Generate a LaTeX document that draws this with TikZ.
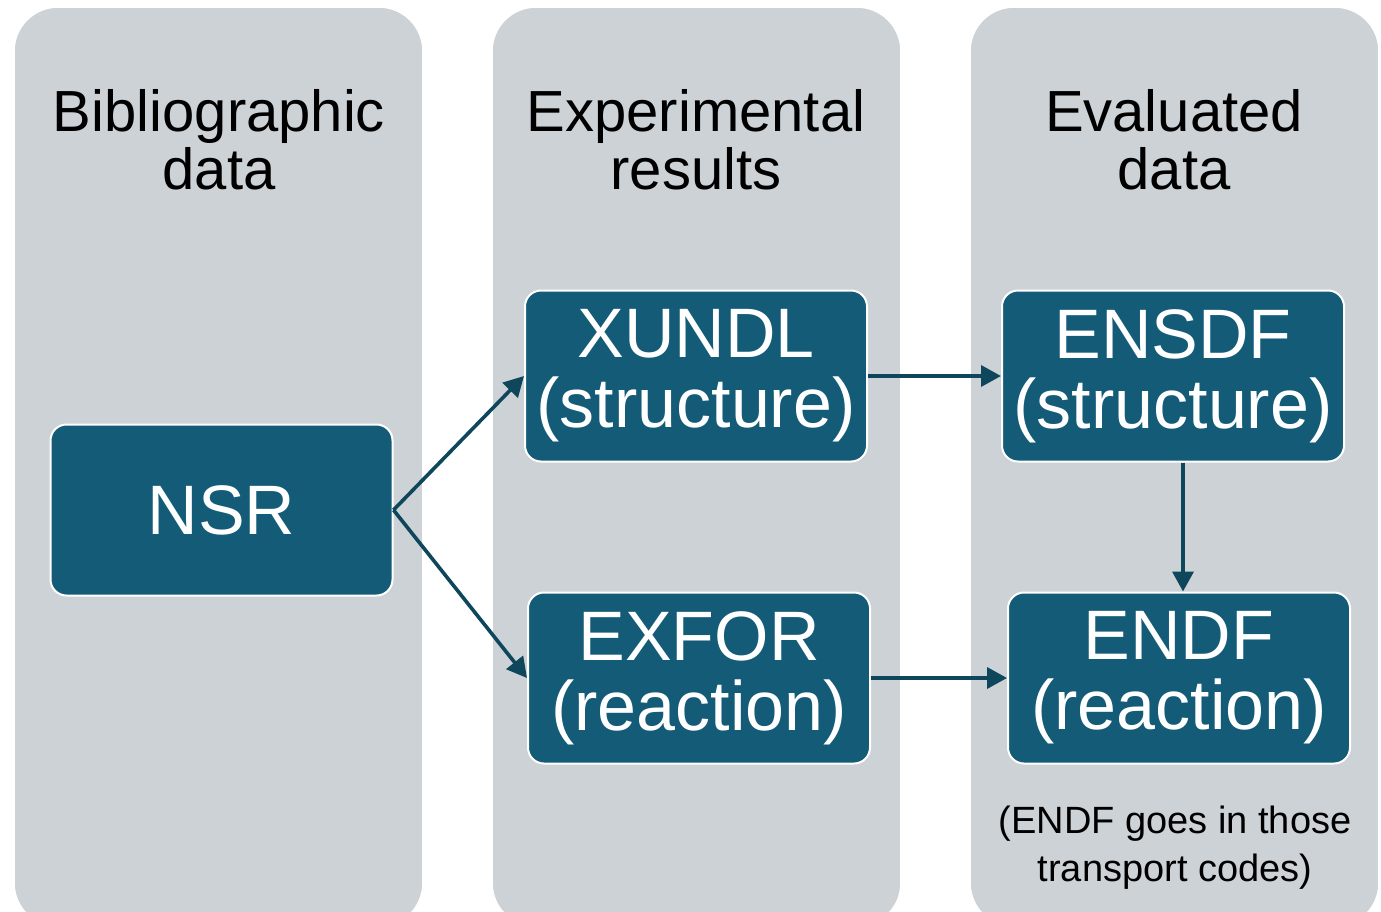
\documentclass[tikz,border=0pt]{standalone}
\usepackage{fontspec}
\setmainfont{Liberation Sans}
\usetikzlibrary{arrows.meta}
\usetikzlibrary{positioning}

\definecolor{panelgray}{HTML}{CDD2D7}
\definecolor{boxteal}{HTML}{135B77}
\definecolor{arrowteal}{HTML}{0E475B}

\begin{document}
\begin{tikzpicture}[x=0.5pt,y=-0.5pt,>={Triangle[length=10pt,width=10.5pt]},
	panel/.style={fill=panelgray,draw=white,line width=0.8pt,rounded corners=22pt},
	head/.style={align=center,font=\fontsize{29}{29}\selectfont},
	main node/.style={rectangle,rounded corners=8pt,fill=boxteal,draw=white,
		line width=1pt,text=white,align=center,inner sep=0pt,
		minimum width=171pt,minimum height=85.5pt,font=\fontsize{35}{35}\selectfont},
	link/.style={->,draw=arrowteal,line width=1.8pt}]
	
	\useasboundingbox (0,0) rectangle (1381,911);
	
	% three columns
	\foreach \x in {14,492,970}
	\draw[panel] (\x,7) rectangle ++(409,920);
	
	\node[head] (bib) at (219,140) {Bibliographic\\data};
	\node[head] (exp) at (696,140) {Experimental\\results};
	\node[head] (eva) at (1174,140) {Evaluated\\data};
	
	\node[main node] (nsr) at (221.5,510) {NSR};
	\node[main node] (xundl) at (696,376) {XUNDL\\(structure)};
	\node[main node] (exfor) at (699,678) {EXFOR\\(reaction)};
	\node[main node] (ensdf) at (1173,376) {ENSDF\\(structure)};
	\node[main node] (endf) at (1179,678) {ENDF\\(reaction)};
	
	\node[align=center,font=\fontsize{19}{24}\selectfont] (note) at (1175,848)
	{(ENDF goes in those\\transport codes)};
	
	\path
	(nsr.east) edge[link] (xundl.west)
	(nsr.east) edge[link] (exfor.west)
	(xundl.east) edge[link] (ensdf.west)
	(exfor.east) edge[link] (endf.west)
	([xshift=5pt]ensdf.south) edge[link] ([xshift=5pt]ensdf.south |- endf.north);
\end{tikzpicture}
\end{document}
